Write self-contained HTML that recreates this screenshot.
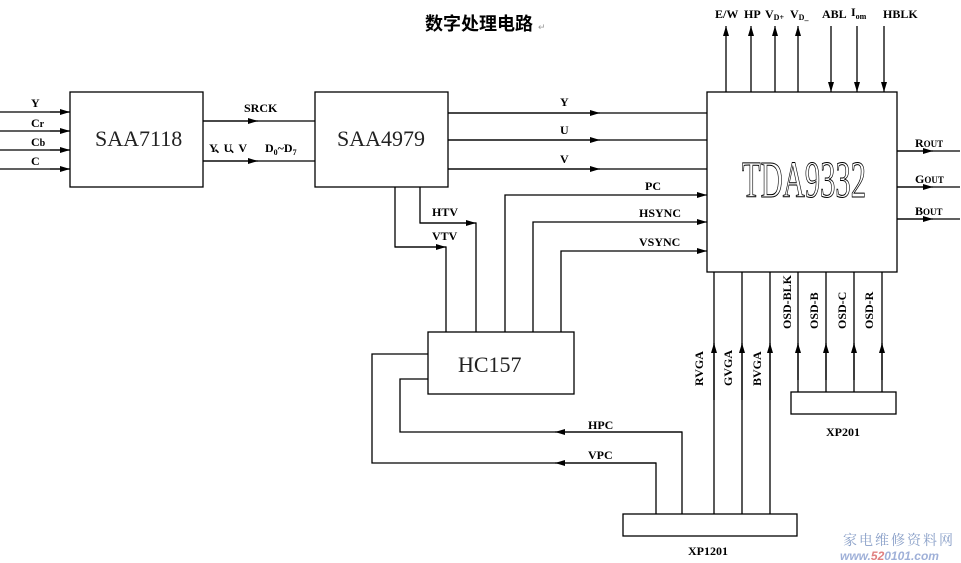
<!DOCTYPE html>
<html><head><meta charset="utf-8"><style>
html,body{margin:0;padding:0;background:#fff;}
svg{display:block;}
.l{font-family:"Liberation Serif",serif;font-weight:bold;font-size:12px;fill:#000;}
.b{font-family:"Liberation Serif",serif;font-size:22px;fill:#222;}
</style></head><body>
<svg width="961" height="563" viewBox="0 0 961 563" xmlns="http://www.w3.org/2000/svg">
<defs>
<marker id="a" viewBox="0 0 10 6" refX="10" refY="3" markerWidth="10" markerHeight="6" markerUnits="userSpaceOnUse" orient="auto"><path d="M0,0 L10,3 L0,6 z" fill="#000"/></marker>
</defs>
<text x="425" y="30" font-family="'Noto Sans CJK SC',sans-serif" font-weight="bold" font-size="18" fill="#000">数字处理电路</text>
<text x="538" y="30" font-size="9" fill="#999" font-family="Liberation Sans,sans-serif">↵</text>
<g stroke="#000" stroke-width="1.3" fill="none">
<rect x="70" y="92" width="133" height="95"/>
<rect x="315" y="92" width="133" height="95"/>
<rect x="707" y="92" width="190" height="180"/>
<rect x="428" y="332" width="146" height="62"/>
<rect x="623" y="514" width="174" height="22"/>
<rect x="791" y="392" width="105" height="22"/>
<path d="M0,112H70M0,131H70M0,150H70M0,169H70"/>
<path d="M50,112H70" marker-end="url(#a)"/>
<path d="M50,131H70" marker-end="url(#a)"/>
<path d="M50,150H70" marker-end="url(#a)"/>
<path d="M50,169H70" marker-end="url(#a)"/>
<path d="M203,121H315M203,161H315"/>
<path d="M203,121H258" marker-end="url(#a)"/>
<path d="M203,161H258" marker-end="url(#a)"/>
<path d="M448,113H707M448,140H707M448,169H707"/>
<path d="M448,113H600" marker-end="url(#a)"/>
<path d="M448,140H600" marker-end="url(#a)"/>
<path d="M448,169H600" marker-end="url(#a)"/>
<path d="M420,187V223H476V332" />
<path d="M420,223H476" marker-end="url(#a)"/>
<path d="M395,187V247H446V332"/>
<path d="M395,247H446" marker-end="url(#a)"/>
<path d="M505,332V195H707" marker-end="url(#a)"/>
<path d="M533,332V222H707" marker-end="url(#a)"/>
<path d="M561,332V251H707" marker-end="url(#a)"/>
<path d="M428,354H372V463H656V514"/>
<path d="M656,463H555" marker-end="url(#a)"/>
<path d="M428,379H400V432H682V514"/>
<path d="M682,432H555" marker-end="url(#a)"/>
<path d="M714,514V272M742,514V272M770,514V272"/>
<path d="M714,400V343" marker-end="url(#a)"/>
<path d="M742,400V343" marker-end="url(#a)"/>
<path d="M770,400V343" marker-end="url(#a)"/>
<path d="M798,392V272M826,392V272M854,392V272M882,392V272"/>
<path d="M798,380V343" marker-end="url(#a)"/>
<path d="M826,380V343" marker-end="url(#a)"/>
<path d="M854,380V343" marker-end="url(#a)"/>
<path d="M882,380V343" marker-end="url(#a)"/>
<path d="M726,92V26" marker-end="url(#a)"/>
<path d="M751,92V26" marker-end="url(#a)"/>
<path d="M775,92V26" marker-end="url(#a)"/>
<path d="M798,92V26" marker-end="url(#a)"/>
<path d="M831,26V92" marker-end="url(#a)"/>
<path d="M857,26V92" marker-end="url(#a)"/>
<path d="M884,26V92" marker-end="url(#a)"/>
<path d="M897,151H960M897,187H960M897,219H960"/>
<path d="M897,151H933" marker-end="url(#a)"/>
<path d="M897,187H933" marker-end="url(#a)"/>
<path d="M897,219H933" marker-end="url(#a)"/>
</g>
<text class="l" x="31" y="107">Y</text>
<text class="l" x="31" y="127">C<tspan font-size="10">r</tspan></text>
<text class="l" x="31" y="146">C<tspan font-size="10">b</tspan></text>
<text class="l" x="31" y="165">C</text>
<text class="b" x="95" y="146">SAA7118</text>
<text class="b" x="337" y="146">SAA4979</text>
<text class="l" x="244" y="112">SRCK</text>
<text class="l" x="209" y="152" textLength="38">Y、U、V</text>
<text class="l" x="265" y="152">D<tspan font-size="8" dy="3">0</tspan><tspan dy="-3">~D</tspan><tspan font-size="8" dy="3">7</tspan></text>
<text class="l" x="560" y="106">Y</text>
<text class="l" x="560" y="134">U</text>
<text class="l" x="560" y="163">V</text>
<text class="l" x="432" y="216">HTV</text>
<text class="l" x="432" y="240">VTV</text>
<text class="l" x="645" y="190">PC</text>
<text class="l" x="639" y="217">HSYNC</text>
<text class="l" x="639" y="246">VSYNC</text>
<text class="l" x="588" y="429">HPC</text>
<text class="l" x="588" y="459">VPC</text>
<text x="742" y="197" font-family="Liberation Serif,serif" font-size="52" fill="#fff" stroke="#000" stroke-width="1" textLength="124" lengthAdjust="spacingAndGlyphs">TDA9332</text>
<text class="b" x="458" y="372" font-size="24">HC157</text>
<text class="l" x="915" y="147">R<tspan font-size="9">OUT</tspan></text>
<text class="l" x="915" y="183">G<tspan font-size="9">OUT</tspan></text>
<text class="l" x="915" y="215">B<tspan font-size="9">OUT</tspan></text>
<text class="l" x="715" y="18" font-size="11">E/W</text>
<text class="l" x="744" y="18" font-size="11">HP</text>
<text class="l" x="765" y="18" font-size="11">V<tspan font-size="8" dy="2">D+</tspan></text>
<text class="l" x="790" y="18" font-size="11">V<tspan font-size="8" dy="2">D_</tspan></text>
<text class="l" x="822" y="18" font-size="11">ABL</text>
<text class="l" x="851" y="16" font-size="11">I<tspan font-size="8" dy="3">om</tspan></text>
<text class="l" x="883" y="18" font-size="11">HBLK</text>
<g class="l" font-size="11">
<text transform="translate(703,386) rotate(-90)">RVGA</text>
<text transform="translate(732,386) rotate(-90)">GVGA</text>
<text transform="translate(761,386) rotate(-90)">BVGA</text>
<text transform="translate(791,329) rotate(-90)">OSD-BLK</text>
<text transform="translate(818,329) rotate(-90)">OSD-B</text>
<text transform="translate(846,329) rotate(-90)">OSD-C</text>
<text transform="translate(873,329) rotate(-90)">OSD-R</text>
</g>
<text class="l" x="826" y="436">XP201</text>
<text class="l" x="688" y="555">XP1201</text>
<text x="843" y="545" font-family="'Noto Serif CJK SC',serif" font-size="14" fill="#8aa0c8" letter-spacing="2">家电维修资料网</text>
<text x="840" y="560" font-family="Liberation Sans,sans-serif" font-weight="bold" font-style="italic" font-size="12" fill="#9fb0d8">www.<tspan fill="#e08080">52</tspan>0101.com</text>
</svg>
</body></html>
